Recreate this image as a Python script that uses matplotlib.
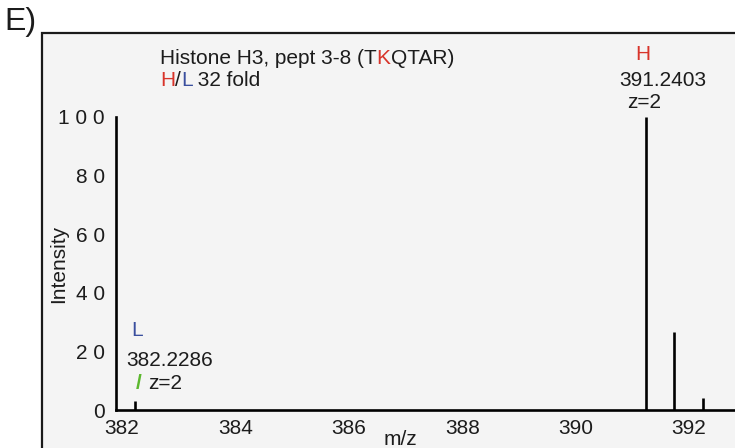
import matplotlib.pyplot as plt
from matplotlib.patches import Rectangle

plt.rcParams['font.family'] = ['Liberation Sans', 'DejaVu Sans']

# centroided peaks (m/z, relative intensity)
peak_mz = [382.2286, 391.2403, 391.7420, 392.2430]
peak_int = [3.1, 100, 26.5, 4.0]

xticks = [382, 384, 386, 388, 390, 392]
yticks = [0, 20, 40, 60, 80, 100]
ytick_labels = ['0', '2 0', '4 0', '6 0', '8 0', '1 0 0']

RED = '#d8342a'
BLUE = '#3a4f9e'
GREEN = '#5cb82e'
INK = '#1c1c1c'
FS = 15

W, H = 735, 448
fig = plt.figure(figsize=(W / 100, H / 100), dpi=100)
fig.patch.set_facecolor('white')
plt.rcParams['text.color'] = INK


def fx(px):
    return px / W


def fy(py):
    return 1 - py / H


# panel frame
fig.patches.append(Rectangle((fx(42), -0.1), 1.2, fy(33) + 0.1, transform=fig.transFigure,
                             facecolor='#f4f4f4', edgecolor='#1a1a1a', linewidth=1.6, zorder=-1))
fig.text(fx(4), fy(22), 'E)', fontsize=23, ha='left', va='center', color=INK)

ax = fig.add_axes([fx(116), fy(410), fx(735 - 116), (410 - 117) / H])
ax.set_zorder(2)
ax.patch.set_alpha(0)
ax.vlines(peak_mz, 0, peak_int, color='black', linewidth=1.9)
ax.set_xlim(381.893, 392.81)
ax.set_ylim(0, 100)
for s in ['top', 'right']:
    ax.spines[s].set_visible(False)
for s in ['left', 'bottom']:
    ax.spines[s].set_linewidth(1.9)
ax.set_xticks(xticks)
ax.set_yticks(yticks)
ax.set_yticklabels(ytick_labels)
ax.tick_params(length=0, labelsize=FS, labelcolor=INK)
ax.tick_params(axis='y', pad=8)
ax.tick_params(axis='x', pad=6.5)
ax.set_ylabel('Intensity', fontsize=FS, labelpad=-7, color=INK)

fig.text(fx(400), fy(439), 'm/z', fontsize=FS, ha='center', va='center', color=INK)

# header
t = fig.text(fx(160), fy(58), 'Histone H3, pept 3-8 (T', fontsize=FS, ha='left', va='center',
             color=INK)
r = fig.canvas.get_renderer()


def after(prev, s, color):
    bb = prev.get_window_extent(renderer=r)
    return fig.text(bb.x1 / W, prev.get_position()[1], s, fontsize=FS, color=color,
                    ha='left', va='center')


k = after(t, 'K', RED)
after(k, 'QTAR)', INK)
h = fig.text(fx(160), fy(80), 'H', fontsize=FS, color=RED, ha='left', va='center')
sl = after(h, '/', INK)
l = after(sl, 'L', BLUE)
after(l, ' 32 fold', INK)

# heavy peak label
fig.text(fx(643), fy(54), 'H', fontsize=FS, color=RED, ha='center', va='center')
fig.text(fx(663), fy(80), '391.2403', fontsize=FS, ha='center', va='center', color=INK)
fig.text(fx(644), fy(102), 'z=2', fontsize=FS, ha='center', va='center', color=INK)

# light peak label
fig.text(fx(137), fy(330), 'L', fontsize=FS, color=BLUE, ha='center', va='center')
fig.text(fx(126), fy(360), '382.2286', fontsize=FS, ha='left', va='center', color=INK)
fig.text(fx(139), fy(383), '/', fontsize=FS, color=GREEN, ha='center', va='center',
         fontweight='bold')
fig.text(fx(148), fy(383), 'z=2', fontsize=FS, ha='left', va='center', color=INK)

fig.savefig('out.png', dpi=100)
